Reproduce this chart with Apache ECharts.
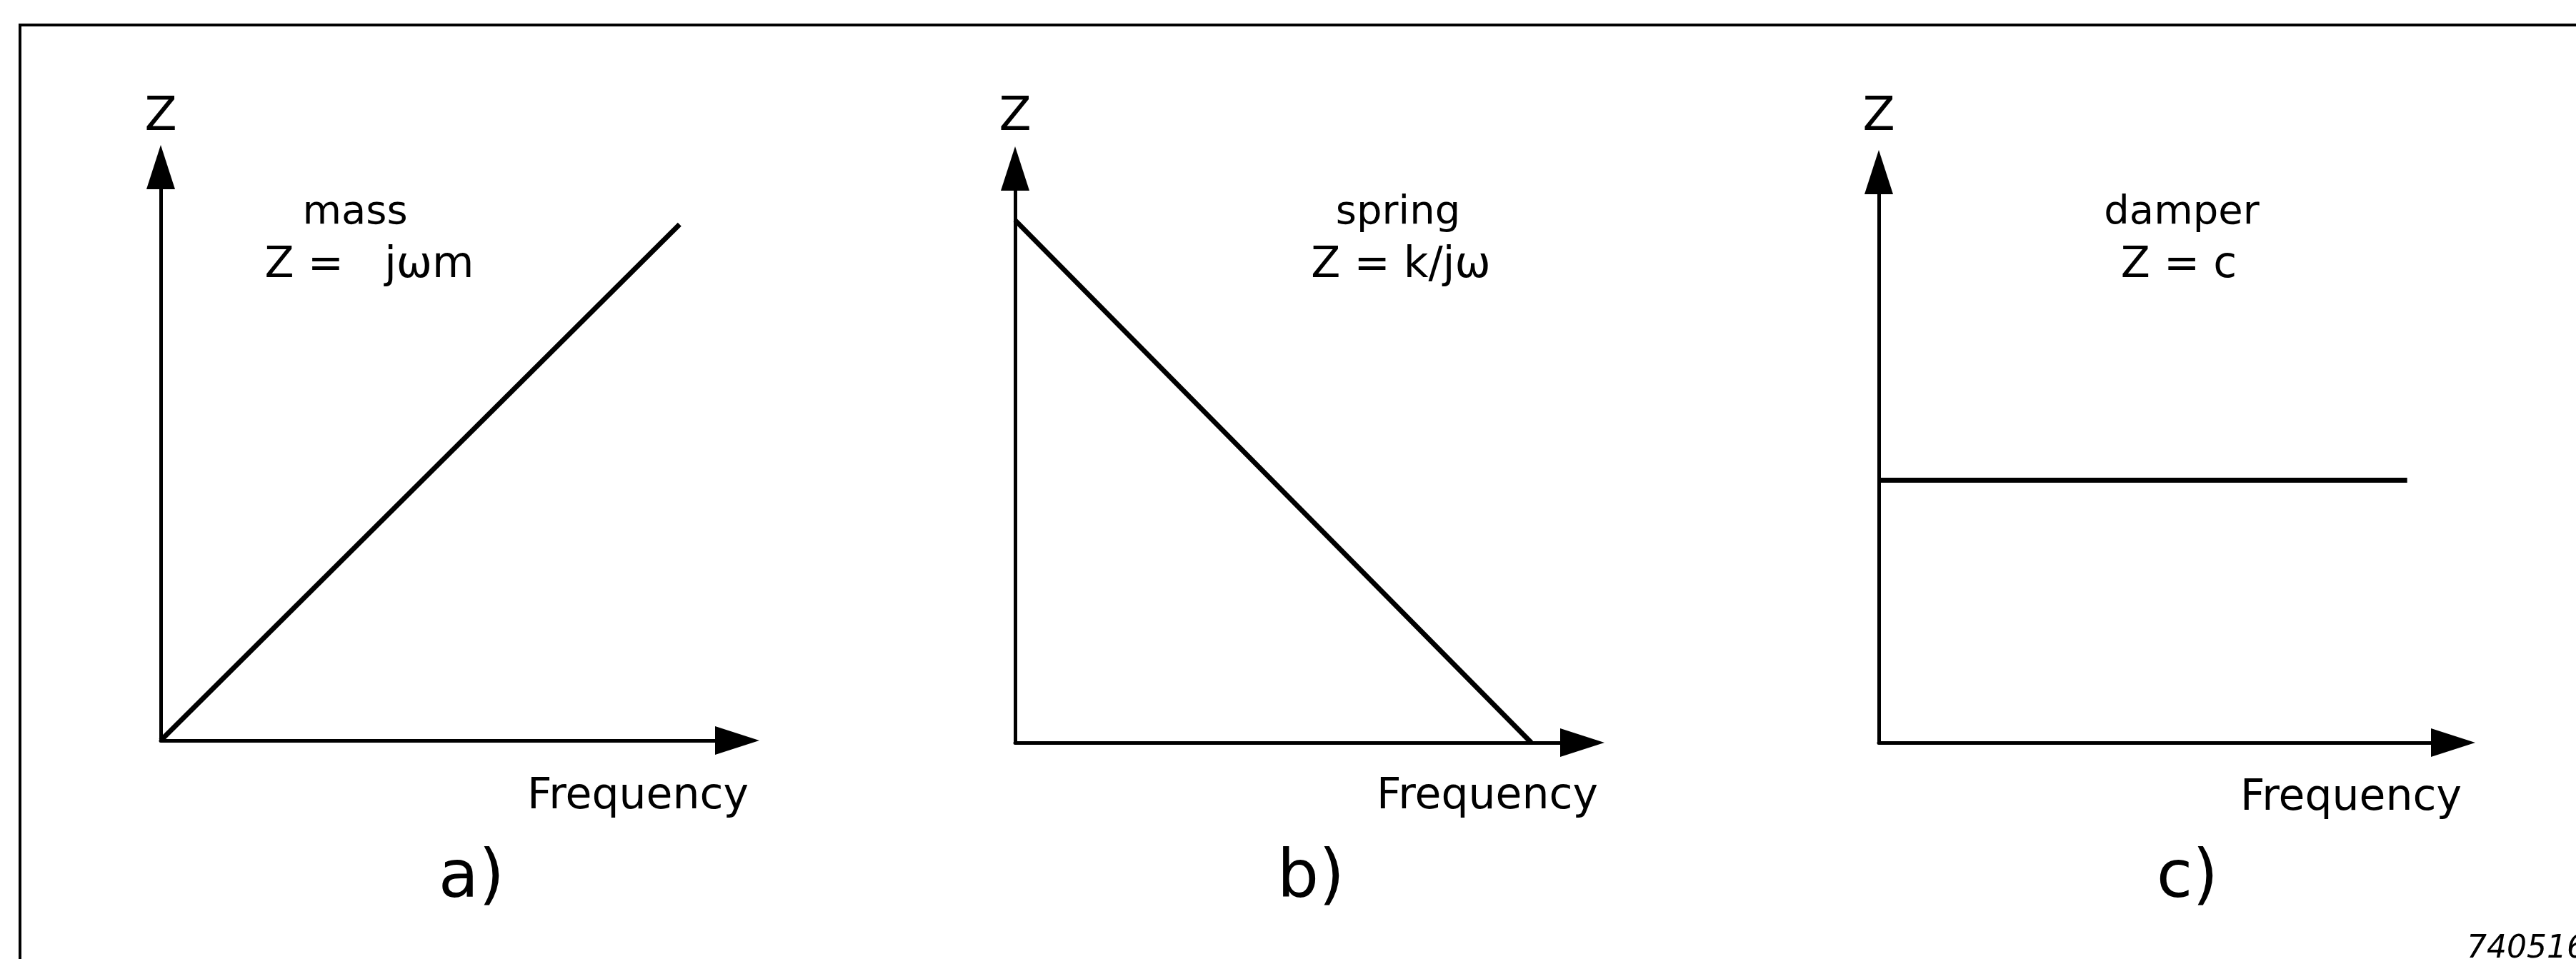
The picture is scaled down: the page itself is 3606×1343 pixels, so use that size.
<!DOCTYPE html>
<html><head><meta charset="utf-8">
<script src="https://cdn.jsdelivr.net/npm/echarts@6/dist/echarts.min.js"></script>
<style>html,body{margin:0;padding:0;background:#fff;overflow:hidden}#c{width:3606px;height:1343px}</style>
</head><body><div id="c"></div>
<script>
// ---- data ----
const panelIds = ['a)', 'b)', 'c)'];
const elementNames = ['mass', 'spring', 'damper'];
const formulas = ['Z =   jωm', 'Z = k/jω', 'Z = c'];
const xAxisTitle = 'Frequency';
const yAxisTitle = 'Z';
const massFreq = [0, 9.0];
const massZ = [0, 9.0];
const springFreq = [0, 9.1];
const springZ = [9.1, 0];
const damperFreq = [0, 9.2];
const damperZ = [4.6, 4.6];
const axisMax = 10;
const figureCode = '740516';

// ---- layout ----
const FONT = 'DejaVu Sans';
const grids = [
  {left: 225, top: 234, width: 807, height: 803},
  {left: 1421, top: 236, width: 794, height: 804},
  {left: 2630, top: 241, width: 804, height: 799}
];
const nameCenters = [[497, 298], [1957, 298], [3054, 298]];
const formulaCenters = [[517, 372], [1961, 372], [3050, 372]];
const freqCenters = [[893, 1116], [2082, 1116], [3291, 1118]];
const captionCenters = [[660, 1232], [1835, 1232], [3062, 1232]];
const zNameGap = [69, 71, 76];

const seriesData = [
  massFreq.map((f, i) => [f, massZ[i]]),
  springFreq.map((f, i) => [f, springZ[i]]),
  damperFreq.map((f, i) => [f, damperZ[i]])
];

const axisLine = {
  show: true, onZero: true,
  symbol: ['none', 'triangle'], symbolSize: [40, 62],
  lineStyle: {color: '#000', width: 5}
};

const option = {
  animation: false,
  backgroundColor: '#fff',
  grid: grids.map(g => Object.assign({containLabel: false, outerBoundsMode: 'none'}, g)),
  xAxis: grids.map((g, i) => ({
    type: 'value', gridIndex: i, min: 0, max: axisMax,
    axisLine: axisLine, axisTick: {show: false}, axisLabel: {show: false}, splitLine: {show: false}
  })),
  yAxis: grids.map((g, i) => ({
    type: 'value', gridIndex: i, min: 0, max: axisMax,
    name: yAxisTitle, nameLocation: 'end', nameGap: zNameGap[i],
    nameTextStyle: {fontFamily: FONT, fontSize: 66, color: '#000', align: 'center', verticalAlign: 'middle'},
    axisLine: axisLine, axisTick: {show: false}, axisLabel: {show: false}, splitLine: {show: false}
  })),
  series: seriesData.map((d, i) => ({
    type: 'line', xAxisIndex: i, yAxisIndex: i, data: d,
    symbol: 'none', lineStyle: {color: '#000', width: 7}, silent: true
  })),
  graphic: [].concat(
    [{type: 'polyline', shape: {points: [[28, 1400], [28, 35], [3700, 35]]}, style: {stroke: '#000', lineWidth: 4, fill: null}}],
    elementNames.map((t, i) => ({type: 'text', x: nameCenters[i][0], y: nameCenters[i][1],
      style: {text: t, font: '56px "' + FONT + '"', fill: '#000', textAlign: 'center', textVerticalAlign: 'middle'}})),
    formulas.map((t, i) => ({type: 'text', x: formulaCenters[i][0], y: formulaCenters[i][1],
      style: {text: t, font: '60px "' + FONT + '"', fill: '#000', textAlign: 'center', textVerticalAlign: 'middle'}})),
    freqCenters.map((c) => ({type: 'text', x: c[0], y: c[1],
      style: {text: xAxisTitle, font: '60px "' + FONT + '"', fill: '#000', textAlign: 'center', textVerticalAlign: 'middle'}})),
    panelIds.map((t, i) => ({type: 'text', x: captionCenters[i][0], y: captionCenters[i][1],
      style: {text: t, font: '92px "' + FONT + '"', fill: '#000', textAlign: 'center', textVerticalAlign: 'middle'}})),
    [{type: 'text', x: 3453, y: 1308,
      style: {text: figureCode, font: 'italic 44px "' + FONT + '"', fill: '#000', textAlign: 'left', textVerticalAlign: 'top'}}]
  )
};

const chart = echarts.init(document.getElementById('c'), null, {renderer: 'canvas'});
chart.setOption(option);
</script></body></html>
